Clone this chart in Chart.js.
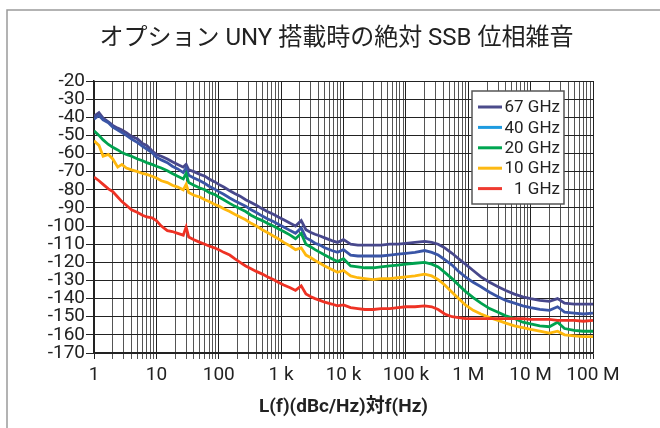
<!DOCTYPE html>
<html>
<head>
<meta charset="utf-8">
<script src="https://cdn.jsdelivr.net/npm/chart.js@4.4.1/dist/chart.umd.min.js"></script>
<style>
    html, body { margin: 0; padding: 0; background: #fff; }
</style>
</head>
<body>
<canvas id="chart-noise" width="660" height="428"></canvas>
<script>
// offset frequency (Hz)
const freqs = [
    1, 1.2, 1.4, 1.7, 2, 2.4, 2.8, 3.3, 4, 5,
    6, 7, 8.5, 10, 12, 15, 18, 22, 27, 30,
    33, 40, 50, 60, 70, 85, 100, 120, 150, 180,
    220, 270, 330, 400, 500, 600, 750, 900, 1100, 1400,
    1700, 2100, 2500, 3000, 3500, 4200, 5000, 6500, 8000, 10000,
    13000, 17000, 22000, 30000, 40000, 55000, 75000, 100000, 140000, 200000,
    260000, 330000, 420000, 550000, 700000, 900000, 1.2e6, 1.6e6, 2.2e6, 3e6,
    4e6, 5.5e6, 7.5e6, 1e7, 1.4e7, 2e7, 2.7e7, 3.5e7, 5e7, 7e7,
    1e8
];

const seriesNames = ["67 GHz", "40 GHz", "20 GHz", "10 GHz", "1 GHz"];

// L(f) dBc/Hz
const noise67 = [
    -39.5, -37.5, -40.5, -42.5, -44.5, -46, -47, -48.5, -50.5, -52,
    -54.5, -55.5, -58.5, -60.5, -61.5, -63, -64.5, -66, -67.5, -66,
    -69, -70, -71.5, -72.5, -74, -75.5, -77, -78.5, -80.5, -82,
    -83.5, -85.5, -87, -88.5, -90.5, -92, -93.5, -95, -96.5, -98.5,
    -100, -97, -102, -103.5, -104.5, -105.5, -106.5, -108, -109, -107.5,
    -110, -110.5, -110.5, -110.5, -110.5, -110, -110, -109.5, -109, -108.5,
    -109, -110, -112, -115, -118, -121, -124.5, -128, -131, -133.5,
    -135.5, -137.5, -139, -140, -141, -141.5, -140, -142.5, -143, -143,
    -143
];
const noise40 = [
    -41, -39, -41.5, -43, -45.5, -47, -48.5, -50, -52, -54,
    -56, -57.5, -59.5, -62, -63.5, -65, -67, -68.5, -70.5, -68,
    -72, -73.5, -75, -76.5, -78, -79.5, -81, -82.5, -84.5, -86,
    -87.5, -89, -91, -92.5, -94.5, -96, -97.5, -99, -100.5, -102.5,
    -104, -101, -106.5, -108, -109.5, -110.5, -112, -113.5, -114.5, -113,
    -116, -116.5, -116.5, -116.5, -116.5, -116, -115.5, -115, -114.5, -113.5,
    -114.5, -116, -118.5, -121.5, -125, -128, -131, -133.5, -136.5, -139,
    -141, -142.5, -144, -145, -146, -146.5, -144.5, -147.5, -148, -148.5,
    -148
];
const noise20 = [
    -47.5, -50, -52.5, -55, -56.5, -58, -59.5, -60.5, -61.5, -63,
    -64, -65, -66, -67, -68, -69.5, -71, -72.5, -74, -71,
    -76, -77.5, -79, -80, -81.5, -82.5, -84, -85.5, -87.5, -89,
    -90.5, -92, -94, -95.5, -97, -98.5, -100, -101.5, -103, -105,
    -107, -104, -110, -111.5, -113, -114.5, -116, -118, -119.5, -118,
    -122, -122.5, -123, -123, -122.5, -122, -121.5, -121, -120.5, -120,
    -121, -122.5, -125.5, -129, -132.5, -136, -139.5, -142.5, -145.5, -147.5,
    -149.5, -151, -153, -154, -155, -155.5, -153, -156.5, -157.5, -158,
    -158
];
const noise10 = [
    -53, -55.5, -61.5, -60.5, -63, -67.5, -66, -68, -69, -70,
    -71, -71.5, -72.5, -73.5, -75, -76, -77.5, -78.5, -80, -77,
    -81.5, -83, -84, -85.5, -86.5, -88, -89, -90.5, -92, -93.5,
    -95, -96.5, -98.5, -100, -102, -103.5, -105.5, -107, -109, -111,
    -113, -112, -116, -117.5, -119, -120.5, -122, -124, -125.5, -124.5,
    -127.5, -128.5, -129, -129.5, -129, -129, -128.5, -128, -127.5, -126.5,
    -127.5, -129.5, -132.5, -136.5, -140, -143.5, -146.5, -148.5, -150.5, -152,
    -153.5, -155, -156, -157, -158, -159, -158, -160, -160.5, -161,
    -161
];
const noise1 = [
    -73, -75, -77, -79.5, -81, -84, -86.5, -88.5, -91, -92.5,
    -94, -95, -95.5, -97, -100, -102.5, -103, -104, -105, -100.5,
    -106, -107.5, -109, -110, -111, -112, -113, -114.5, -116, -118,
    -120, -122, -123.5, -125, -126.5, -128, -129.5, -131, -132.5, -134,
    -135.5, -133, -137.5, -139, -140, -141, -142, -143, -144, -143.5,
    -145, -145.5, -146, -146, -145.5, -145.5, -145, -144.5, -144.5, -144,
    -144.5, -146, -148.5, -150, -150.5, -151, -151, -151, -151, -151,
    -151, -151, -151, -151.5, -151.5, -151.5, -152, -152, -152, -152.5,
    -152
];

// decade tick labels, 1 Hz .. 100 MHz
const xTickLabels = ["1", "10", "100", "1 k", "10 k", "100 k", "1 M", "10 M", "100 M"];

const lineColors = ['#48488c', '#3a55a6', '#00a24f', '#ffb80d', '#ee3224'];
const legendColors = ['#4b4b8b', '#1e9be0', '#00a651', '#fdb913', '#ef3a30'];
const allSeries = [noise67, noise40, noise20, noise10, noise1];

const tickFont = "Roboto, 'Noto Sans CJK JP', sans-serif";

function decadeIndex(v) {
    const e = Math.round(Math.log10(v));
    return Math.abs(v - Math.pow(10, e)) < 1e-6 ? e : -1;
}

// outer frame + boxed legend
const frameLegend = {
    id: 'frameLegend',
    beforeDraw(chart) {
        const c = chart.ctx;
        c.save();
        c.strokeStyle = '#9a9a9a';
        c.lineWidth = 1.5;
        c.beginPath();
        c.moveTo(7, chart.height);
        c.lineTo(7, 10);
        c.lineTo(chart.width, 10);
        c.stroke();
        c.restore();
    },
    afterDraw(chart) {
        const c = chart.ctx;
        const area = chart.chartArea;
        const left = area.right - 121, top = area.top + 10;
        const w = 92, h = 113;
        c.save();
        c.fillStyle = '#fff';
        c.fillRect(left, top, w, h);
        c.strokeStyle = '#555';
        c.lineWidth = 1.5;
        c.strokeRect(left, top, w, h);
        c.font = "17px " + tickFont;
        c.textAlign = 'right';
        c.textBaseline = 'middle';
        chart.data.datasets.forEach((ds, i) => {
            const y = top + 16 + i * 20.4;
            c.strokeStyle = legendColors[i];
            c.lineWidth = 3;
            c.beginPath();
            c.moveTo(left + 6, y);
            c.lineTo(left + 30, y);
            c.stroke();
            c.fillStyle = '#222';
            c.fillText(ds.label, left + w - 4, y + 1);
        });
        c.restore();
    }
};

const ctx = document.getElementById('chart-noise');

new Chart(ctx, {
    type: 'line',
    data: {
        datasets: seriesNames.map((name, i) => ({
            label: name,
            data: freqs.map((f, j) => ({x: f, y: allSeries[i][j]})),
            borderColor: lineColors[i],
            backgroundColor: lineColors[i],
            borderWidth: 2.8,
            pointRadius: 0,
            tension: 0,
            order: seriesNames.length - 1 - i
        }))
    },
    options: {
        responsive: false,
        animation: false,
        devicePixelRatio: 1,
        layout: {
            padding: {left: 13, right: 0, top: 0, bottom: 0}
        },
        scales: {
            x: {
                type: 'logarithmic',
                min: 1,
                max: 1e8,
                afterBuildTicks(scale) {
                    const t = [];
                    for (let e = 0; e < 8; e++) {
                        for (let m = 1; m < 10; m++) t.push({value: m * Math.pow(10, e)});
                    }
                    t.push({value: 1e8});
                    scale.ticks = t;
                },
                afterFit(scale) {
                    scale.height = 75;
                },
                ticks: {
                    autoSkip: false,
                    maxRotation: 0,
                    padding: 5,
                    color: '#222',
                    font: {family: tickFont, size: 19},
                    callback(value) {
                        const e = decadeIndex(value);
                        return e >= 0 ? xTickLabels[e] : '';
                    }
                },
                grid: {
                    color: (c) => (c.tick && decadeIndex(c.tick.value) >= 0) ? '#222' : '#555',
                    lineWidth: 1,
                    tickLength: 6
                },
                border: {color: '#222', width: 1.5},
                title: {
                    display: true,
                    text: 'L(f)(dBc/Hz)対f(Hz)',
                    color: '#222',
                    font: {family: tickFont, size: 19, weight: 'bold'},
                    padding: {top: 0, bottom: 9}
                }
            },
            y: {
                min: -170,
                max: -20,
                afterFit(scale) {
                    scale.width = 81;
                },
                ticks: {
                    stepSize: 10,
                    autoSkip: false,
                    padding: 1,
                    color: '#222',
                    font: {family: tickFont, size: 19}
                },
                grid: {
                    color: '#222',
                    lineWidth: 1,
                    tickLength: 8
                },
                border: {color: '#222', width: 1.5}
            },
            // empty right-hand gutter so the title centres like the original
            yGutter: {
                position: 'right',
                min: -170,
                max: -20,
                afterFit(scale) {
                    scale.width = 67;
                },
                ticks: {display: false},
                grid: {display: false, drawOnChartArea: false},
                border: {display: false}
            }
        },
        plugins: {
            legend: {display: false},
            tooltip: {enabled: false},
            title: {
                display: true,
                text: 'オプション UNY 搭載時の絶対 SSB 位相雑音',
                color: '#222',
                font: {family: tickFont, size: 24, weight: 'normal'},
                padding: {top: 25, bottom: 27.2}
            }
        }
    },
    plugins: [frameLegend]
});
</script>
</body>
</html>
